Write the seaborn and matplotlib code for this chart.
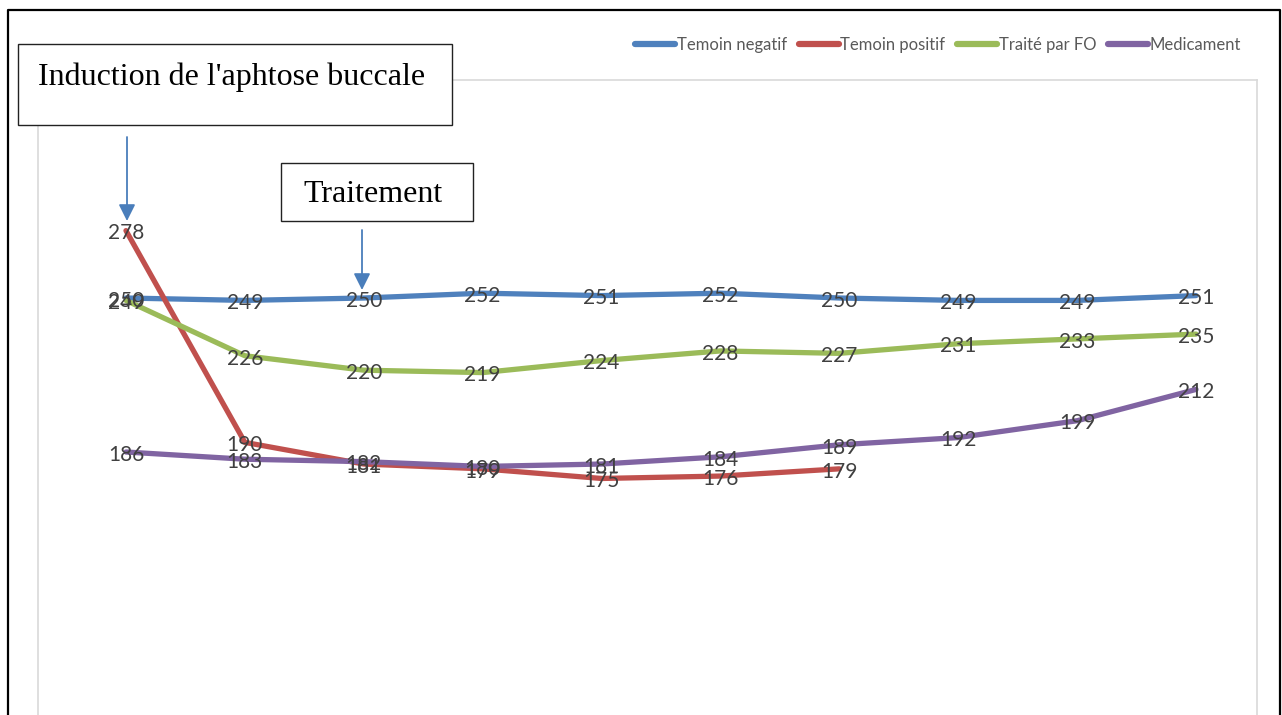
import numpy as np
import pandas as pd
import matplotlib
import matplotlib.pyplot as plt
import seaborn as sns
from matplotlib.patches import Rectangle, FancyArrowPatch
from matplotlib.lines import Line2D

matplotlib.use("Agg")

# Data
jours = list(range(10))
temoin_negatif = [250, 249, 250, 252, 251, 252, 250, 249, 249, 251]
temoin_positif = [278, 190, 181, 179, 175, 176, 179]
traite_fo = [249, 226, 220, 219, 224, 228, 227, 231, 233, 235]
medicament = [186, 183, 182, 180, 181, 184, 189, 192, 199, 212]

series = ["Temoin negatif", "Temoin positif", "Traité par FO", "Medicament"]
colors = ["#4F81BD", "#C0504D", "#9BBB59", "#8064A2"]

rows = []
for name, vals in zip(series, [temoin_negatif, temoin_positif, traite_fo, medicament]):
    for j, v in zip(jours, vals):
        rows.append({"jour": j, "valeur": v, "groupe": name})
df = pd.DataFrame(rows)

sns.set_style("white")
W, H = 1282, 715
fig = plt.figure(figsize=(W / 100, H / 100), dpi=100)

# plot area in pixel coords -> figure fraction
px_l, px_r, px_t = 38, 1257, 80
ax = fig.add_axes([px_l / W, 0, (px_r - px_l) / W, (H - px_t) / H])

sns.lineplot(data=df, x="jour", y="valeur", hue="groupe", hue_order=series,
             palette=colors, linewidth=3.8, legend=False, ax=ax,
             solid_capstyle="round")

ax.set_xlim(-0.74, 9.513)
ax.set_ylim(76.7, 340.6)
ax.set_xticks([])
ax.set_yticks([])
ax.set_xlabel("")
ax.set_ylabel("")
for side in ["top", "left", "right"]:
    ax.spines[side].set_color("#D9D9D9")
    ax.spines[side].set_linewidth(1.2)
ax.spines["bottom"].set_visible(False)

# data labels, centred on the points
lab_font = ["Lato", "DejaVu Sans"]
for _, r in df.iterrows():
    ax.annotate(f"{r['valeur']}", (r["jour"], r["valeur"]), xytext=(0, -2),
                textcoords="offset points", ha="center", va="center",
                fontsize=15, color="#404040", family=lab_font)

# legend across the top right
handles = [Line2D([0], [0], color=c, lw=4.5, solid_capstyle="round") for c in colors]
leg = fig.legend(handles, series, loc="center", bbox_to_anchor=(938 / W, 1 - 45 / H),
                 ncol=4, frameon=False, handlelength=2.4, handletextpad=0.1,
                 columnspacing=0.7,
                 prop={"family": ["Lato", "DejaVu Sans"], "size": 12})
for t in leg.get_texts():
    t.set_color("#595959")

# outer black frame
fig.add_artist(Line2D([8 / W, 8 / W, 1280 / W, 1280 / W], [0, 1 - 10 / H, 1 - 10 / H, 0],
                      transform=fig.transFigure, color="black", lw=1.6))

# annotation boxes
fig.patches.append(Rectangle((18 / W, 1 - 125 / H), (452 - 18) / W, (125 - 44) / H,
                             transform=fig.transFigure, fc="white", ec="#222222",
                             lw=1.0, zorder=6))
fig.text(38 / W, 1 - 77 / H, "Induction de l'aphtose buccale", ha="left", va="center",
         fontsize=23, family="Liberation Serif", color="black", zorder=7)

fig.patches.append(Rectangle((281 / W, 1 - 221 / H), (473 - 281) / W, (221 - 163) / H,
                             transform=fig.transFigure, fc="white", ec="#222222",
                             lw=1.0, zorder=6))
fig.text(303 / W, 1 - 194 / H, "Traitement", ha="left", va="center",
         fontsize=23, family="Liberation Serif", color="black", zorder=7)

# arrows
arrow_c = "#4A7EBB"
for x, y0, y1 in [(127, 137, 221), (362, 230, 290)]:
    fig.add_artist(FancyArrowPatch(
        (x / W, 1 - y0 / H), (x / W, 1 - y1 / H), transform=fig.transFigure,
        arrowstyle="-|>,head_length=10,head_width=5", color=arrow_c, lw=1.3,
        mutation_scale=1.0, shrinkA=0, shrinkB=0, zorder=8))

fig.savefig("out.png", dpi=100)
